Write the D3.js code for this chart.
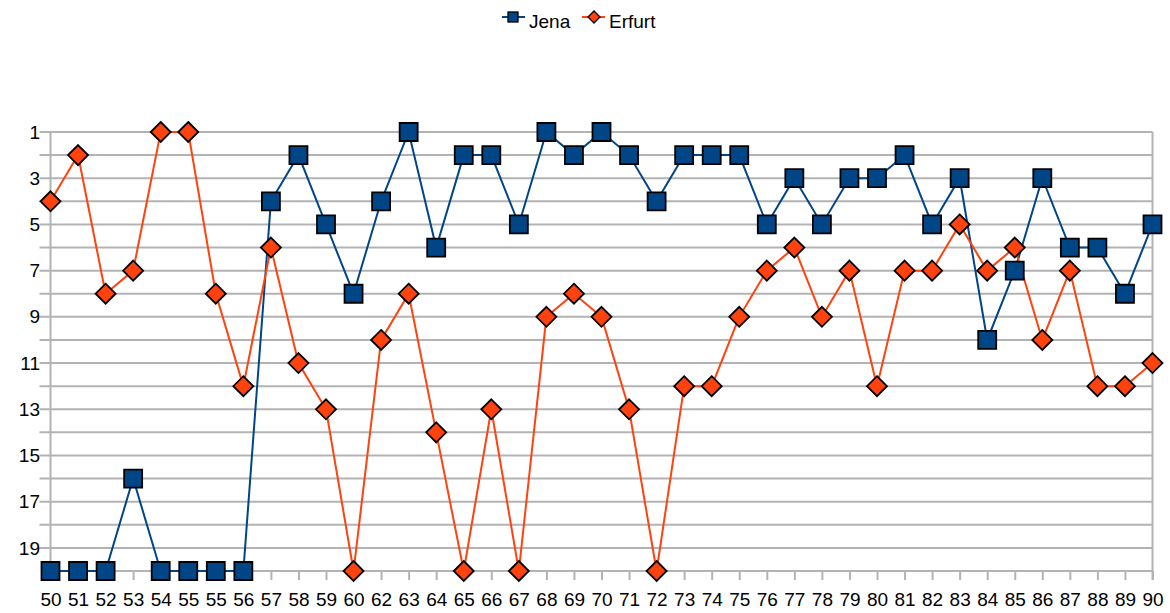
<!DOCTYPE html>
<html>
<head>
<meta charset="utf-8">
<script src="https://cdnjs.cloudflare.com/ajax/libs/d3/7.8.5/d3.min.js"></script>
<style>
    body { margin: 0; background: #fff; }
    text { font-family: "Liberation Sans", Arial, sans-serif; fill: #000; }
</style>
</head>
<body>
<div id="chart"></div>
<script>
// x categories (the season labels, "55" really shows twice and 61 is missing)
var seasons = ["50","51","52","53","54","55","55","56","57","58","59","60","62","63","64","65","66","67","68","69","70",
               "71","72","73","74","75","76","77","78","79","80","81","82","83","84","85","86","87","88","89","90"];

// league positions
var jena   = [20,20,20,16,20,20,20,20,4,2,5,8,4,1,6,2,2,5,1,2,1,2,4,2,2,2,5,3,5,3,3,2,5,3,10,7,3,6,6,8,5];
var erfurt = [4,2,8,7,1,1,8,12,6,11,13,20,10,8,14,20,13,20,9,8,9,13,20,12,12,9,7,6,9,7,12,7,7,5,7,6,10,7,12,12,11];

// y ticks
var gridValues = d3.range(1, 20);
var labelValues = [1,3,5,7,9,11,13,15,17,19];

var seriesNames = ["Jena", "Erfurt"];
var blue = "#004586", orange = "#ff420e", grey = "#b3b3b3";

var width = 1170, height = 613;
var plotLeft = 50.5, plotRight = 1152.5, plotTop = 132, plotBottom = 571;

var svg = d3.select("#chart").append("svg")
            .attr("width", width)
            .attr("height", height);

// scales
var x = d3.scalePoint()
            .domain(d3.range(seasons.length))
            .range([plotLeft, plotRight]);

var y = d3.scaleLinear()
            .domain([1, 20])
            .range([plotTop, plotBottom]);

// horizontal gridlines, they stick out left of the axis like ticks
svg.append("g").selectAll("line")
    .data(gridValues)
    .enter().append("line")
    .attr("x1", plotLeft - 11)
    .attr("x2", plotRight)
    .attr("y1", function(d) { return y(d); })
    .attr("y2", function(d) { return y(d); })
    .attr("stroke", grey)
    .attr("stroke-width", 2);

// y labels
svg.append("g").selectAll("text")
    .data(labelValues)
    .enter().append("text")
    .attr("x", 40)
    .attr("y", function(d) { return y(d); })
    .attr("dy", "0.35em")
    .attr("text-anchor", "end")
    .style("font-size", "19px")
    .text(function(d) { return d; });

// x axis at the bottom
var xAxis = svg.append("g")
    .attr("transform", "translate(0," + plotBottom + ")")
    .call(d3.axisBottom(x).tickSize(9).tickPadding(13).tickFormat(function(i) { return seasons[i]; }));
xAxis.select(".domain").attr("stroke", grey).attr("stroke-width", 2)
    .attr("d", "M" + plotLeft + ",0H" + plotRight);
xAxis.selectAll(".tick line").attr("stroke", grey).attr("stroke-width", 2);
xAxis.selectAll(".tick text")
    .style("font-size", "19px")
    .attr("fill", "#000")
    .style("font-family", "'Liberation Sans', Arial, sans-serif");

// left and right borders
svg.append("g").selectAll("line")
    .data([plotLeft, plotRight])
    .enter().append("line")
    .attr("x1", function(d) { return d; })
    .attr("x2", function(d) { return d; })
    .attr("y1", plotTop)
    .attr("y2", plotBottom + 9)
    .attr("stroke", grey)
    .attr("stroke-width", 2);

// lines
var line = d3.line()
            .x(function(d, i) { return x(i); })
            .y(function(d) { return y(d); });

svg.append("path")
    .attr("d", line(jena))
    .attr("fill", "none")
    .attr("stroke", blue)
    .attr("stroke-width", 2);

svg.append("path")
    .attr("d", line(erfurt))
    .attr("fill", "none")
    .attr("stroke", orange)
    .attr("stroke-width", 2);

// markers: squares for Jena, diamonds for Erfurt
var square = d3.symbol().type(d3.symbolSquare).size(18 * 18);
var diamond = "M0,-10L10,0L0,10L-10,0Z";

svg.append("g").selectAll("path")
    .data(jena)
    .enter().append("path")
    .attr("d", square)
    .attr("transform", function(d, i) { return "translate(" + x(i) + "," + y(d) + ")"; })
    .attr("fill", blue)
    .attr("stroke", "#000")
    .attr("stroke-width", 1.8);

svg.append("g").selectAll("path")
    .data(erfurt)
    .enter().append("path")
    .attr("d", diamond)
    .attr("transform", function(d, i) { return "translate(" + x(i) + "," + y(d) + ")"; })
    .attr("fill", orange)
    .attr("stroke", "#000")
    .attr("stroke-width", 1.8);

// legend at the top
var legend = svg.append("g");
var legendX = [502, 582];
var legendColors = [blue, orange];

legend.selectAll("line")
    .data(seriesNames)
    .enter().append("line")
    .attr("x1", function(d, i) { return legendX[i]; })
    .attr("x2", function(d, i) { return legendX[i] + 23; })
    .attr("y1", 17)
    .attr("y2", 17)
    .attr("stroke", function(d, i) { return legendColors[i]; })
    .attr("stroke-width", 2);

legend.append("rect")
    .attr("x", 508).attr("y", 12)
    .attr("width", 10).attr("height", 10)
    .attr("fill", blue).attr("stroke", "#000").attr("stroke-width", 1.3);

legend.append("path")
    .attr("d", "M0,-6L6,0L0,6L-6,0Z")
    .attr("transform", "translate(594,17)")
    .attr("fill", orange).attr("stroke", "#000").attr("stroke-width", 1.3);

legend.selectAll("text")
    .data(seriesNames)
    .enter().append("text")
    .attr("x", function(d, i) { return legendX[i] + 27; })
    .attr("y", 28)
    .style("font-size", "19px")
    .text(function(d) { return d; });
</script>
</body>
</html>
